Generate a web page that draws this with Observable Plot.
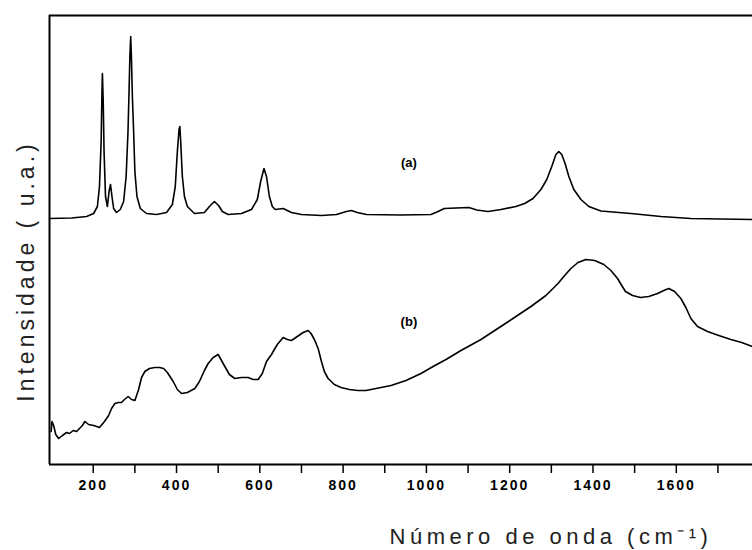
<!DOCTYPE html>
<html>
<head>
<meta charset="utf-8">
<script src="https://cdn.jsdelivr.net/npm/d3@7"></script>
<script src="https://cdn.jsdelivr.net/npm/@observablehq/plot@0.6"></script>
<style>
  html, body { margin: 0; padding: 0; background: #fff; }
  #chart svg { display: block; }
</style>
</head>
<body>
<div id="chart"></div>
<script>
// Spectrum (a): wavenumber (cm-1) and intensity (a.u.)
const aWave = [95,148,184,201,210,215,219,221,222,224,226,229.5,234,238,241.5,245,249,256,265,273,279,283.5,286,288,290,292,294,297,300,305,313,328,352,376,390,397,402,406,408,410,414,419,426,443,467,479,491,501,510,524,556,580,594,602,610,616,623,630,637,656,676,700,748,784,808,820,834,856,939,1011,1028,1043,1071,1102,1121,1148,1179,1215,1236,1256,1275,1289,1301,1311,1318,1325,1333,1342,1354,1371,1390,1419,1491,1563,1635,1707,1783];
const aInt  = [246,246.5,248,251,258,278,323,373,391,363,313,268,258,273,280,268,256,252,255,263,288,333,373,408,428,403,368,333,293,268,256,251,250,252,260,278,313,335,338,323,288,268,258,251,252,258,263,259,253,250,251,255,265,283,296,288,268,258,255,256,252,250,249,250,253,254,252,250,249.5,250,253,256,256.5,257,254.5,253,255,258,261,266,275,285,298,310,313,310,301,288,275,265,258,253.5,251,248,246,245.5,245];

// Spectrum (b)
const bWave = [99,101,105,110,117,126,136,143,152,160,167,174,180,189,201,215,227,237,244,252,261,268,275,284,292,300,309,316,324,335,348,359,369,378,392,402,412,426,444,455,467,476,488,500,508,516,527,540,556,572,584,596,606,616,628,642,656,666,676,690,704,716,723,731,740,748,755,764,779,795,815,835,855,879,915,951,987,1016,1047,1083,1131,1186,1215,1251,1287,1316,1332,1347,1364,1383,1404,1426,1443,1459,1469,1478,1495,1514,1534,1555,1570,1582,1596,1611,1623,1635,1651,1675,1702,1731,1757,1783];
const bInt  = [33,43,39,30,26,29,32,31,34,33,36,39,43,40,39,37,43,49,56,61,62,62,65,68,65,64,75,87,93,96,97,97,96,92,83,75,71,72,76,83,94,101,107,110,104,98,90,86,87,87,85,85,91,103,110,120,127,125,124,128,132,134,131,125,116,103,93,86,80,77,75,74,74,76,79,84,91,98,105,114,125,140,148,158,169,181,189,196,202,205,204,200,194,186,179,173,169,167,168,171,174,176,173,166,157,146,138,133,129,125,122,118];

// Curve labels
const curveLabels = ["(a)", "(b)"];
const curveLabelWave = [958, 958];
const curveLabelInt = [302, 143];

// Axis
const xDomain = [95, 1783];
const yDomain = [0, 449];
const xTicks = [200,300,400,500,600,700,800,900,1000,1100,1200,1300,1400,1500,1600,1700];
const xTickLabels = [200,400,600,800,1000,1200,1400,1600];
const xTitle = ["Número de onda (cm⁻¹)"];
const yTitle = ["Intensidade ( u.a.)"];

const specA = aWave.map((w, i) => ({w, v: aInt[i]}));
const specB = bWave.map((w, i) => ({w, v: bInt[i]}));
const labels = curveLabels.map((t, i) => ({t, w: curveLabelWave[i], v: curveLabelInt[i]}));

const chart = Plot.plot({
  width: 752,
  height: 550,
  marginTop: 15,
  marginLeft: 49,
  marginRight: 0,
  marginBottom: 86,
  style: {background: "#fff", fontFamily: "'Liberation Sans', Arial, sans-serif", color: "#000"},
  x: {domain: xDomain, axis: null},
  y: {domain: yDomain, axis: null},
  marks: [
    Plot.axisX({
      ticks: xTicks,
      label: null,
      tickSize: 9,
      tickPadding: 7,
      strokeWidth: 1.5,
      tickFormat: d => xTickLabels.includes(d) ? String(d) : "",
      fontSize: 14,
      fontWeight: "bold",
      fontFamily: "'Liberation Sans', Arial, sans-serif"
    }),
    Plot.ruleY([yDomain[0], yDomain[1]], {stroke: "#000", strokeWidth: 2}),
    Plot.ruleX([xDomain[0]], {stroke: "#000", strokeWidth: 2}),
    Plot.line(specA, {x: "w", y: "v", stroke: "#000", strokeWidth: 1.6, curve: "linear"}),
    Plot.line(specB, {x: "w", y: "v", stroke: "#000", strokeWidth: 1.6, curve: "linear"}),
    Plot.text(labels, {x: "w", y: "v", text: "t", fontSize: 13, fontWeight: "bold", fill: "#000"}),
    Plot.text(xTitle, {frameAnchor: "bottom", textAnchor: "middle", dx: 150, dy: 79, lineAnchor: "bottom", fontSize: 22, fill: "#222"}),
    Plot.text(yTitle, {frameAnchor: "left", textAnchor: "middle", rotate: -90, dx: -23, dy: 31, fontSize: 23, fill: "#222"})
  ]
});

document.getElementById("chart").appendChild(chart);
// letter spacing as in the reference
d3.select(chart).selectAll("text").each(function () {
  const t = this.textContent;
  let ls = null;
  if (/^\d+$/.test(t)) ls = "2px";
  else if (t === xTitle[0]) ls = "4.5px";
  else if (t === yTitle[0]) ls = "4px";
  if (ls) this.setAttribute("letter-spacing", ls), this.style.letterSpacing = ls;
});
</script>
</body>
</html>
